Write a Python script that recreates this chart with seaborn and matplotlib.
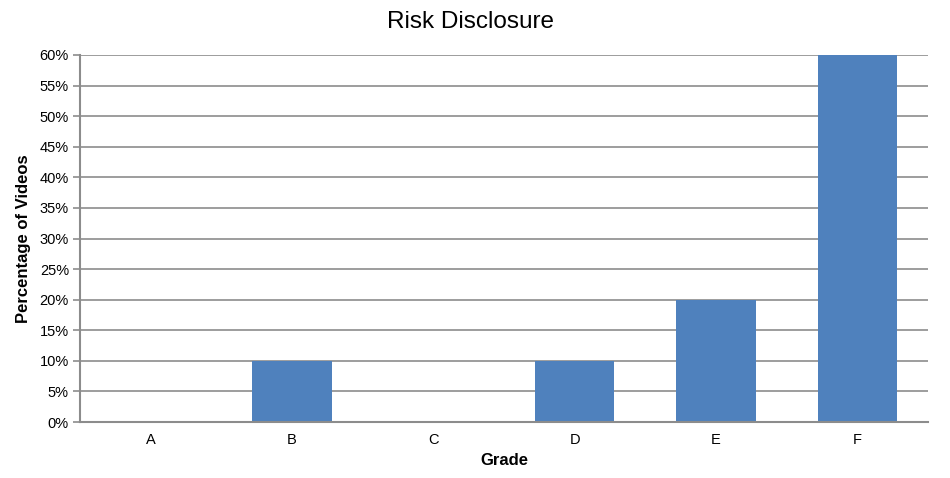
import matplotlib
matplotlib.use('Agg')
import matplotlib.pyplot as plt
import seaborn as sns
import pandas as pd
from matplotlib.ticker import MultipleLocator, PercentFormatter

grades = ['A', 'B', 'C', 'D', 'E', 'F']
pct_videos = [0, 10, 0, 10, 20, 60]

data = pd.DataFrame({'grade': grades, 'pct': pct_videos})

sns.set_style('white')
plt.rcParams['font.family'] = ['Liberation Sans', 'DejaVu Sans']
plt.rcParams['text.color'] = 'black'
plt.rcParams['axes.labelcolor'] = 'black'
plt.rcParams['xtick.color'] = 'black'
plt.rcParams['ytick.color'] = 'black'

fig = plt.figure(figsize=(9.5, 4.78), dpi=100)
ax = fig.add_axes([80 / 950, 1 - 422 / 478, 848 / 950, 367 / 478])

ax.yaxis.set_major_locator(MultipleLocator(5))
ax.yaxis.set_major_formatter(PercentFormatter(decimals=0))
ax.grid(axis='y', color='#8c8c8c', linewidth=1.2)
ax.set_axisbelow(True)

sns.barplot(x='grade', y='pct', data=data, color='#4f81bd', width=0.56,
            saturation=1, linewidth=0, ax=ax)

ax.set_ylim(0, 60)
ax.set_xlim(-0.5, 5.5)
fig.suptitle('Risk Disclosure', fontsize=17.5, x=0.495, y=0.977, va='top')
ax.set_xlabel('Grade', fontsize=12, fontweight='bold', labelpad=4)
ax.set_ylabel('Percentage of Videos', fontsize=12, fontweight='bold', labelpad=6)

for side in ['top', 'right']:
    ax.spines[side].set_visible(False)
for side in ['left', 'bottom']:
    ax.spines[side].set_color('#8c8c8c')
    ax.spines[side].set_linewidth(1.5)

ax.tick_params(axis='y', which='major', length=5, width=1.2, color='#8c8c8c',
               labelcolor='black', labelsize=10.5, left=True, direction='out', pad=3)
ax.tick_params(axis='x', length=0, labelcolor='black', labelsize=10.5, pad=8)

plt.savefig('out.png', dpi=100)
